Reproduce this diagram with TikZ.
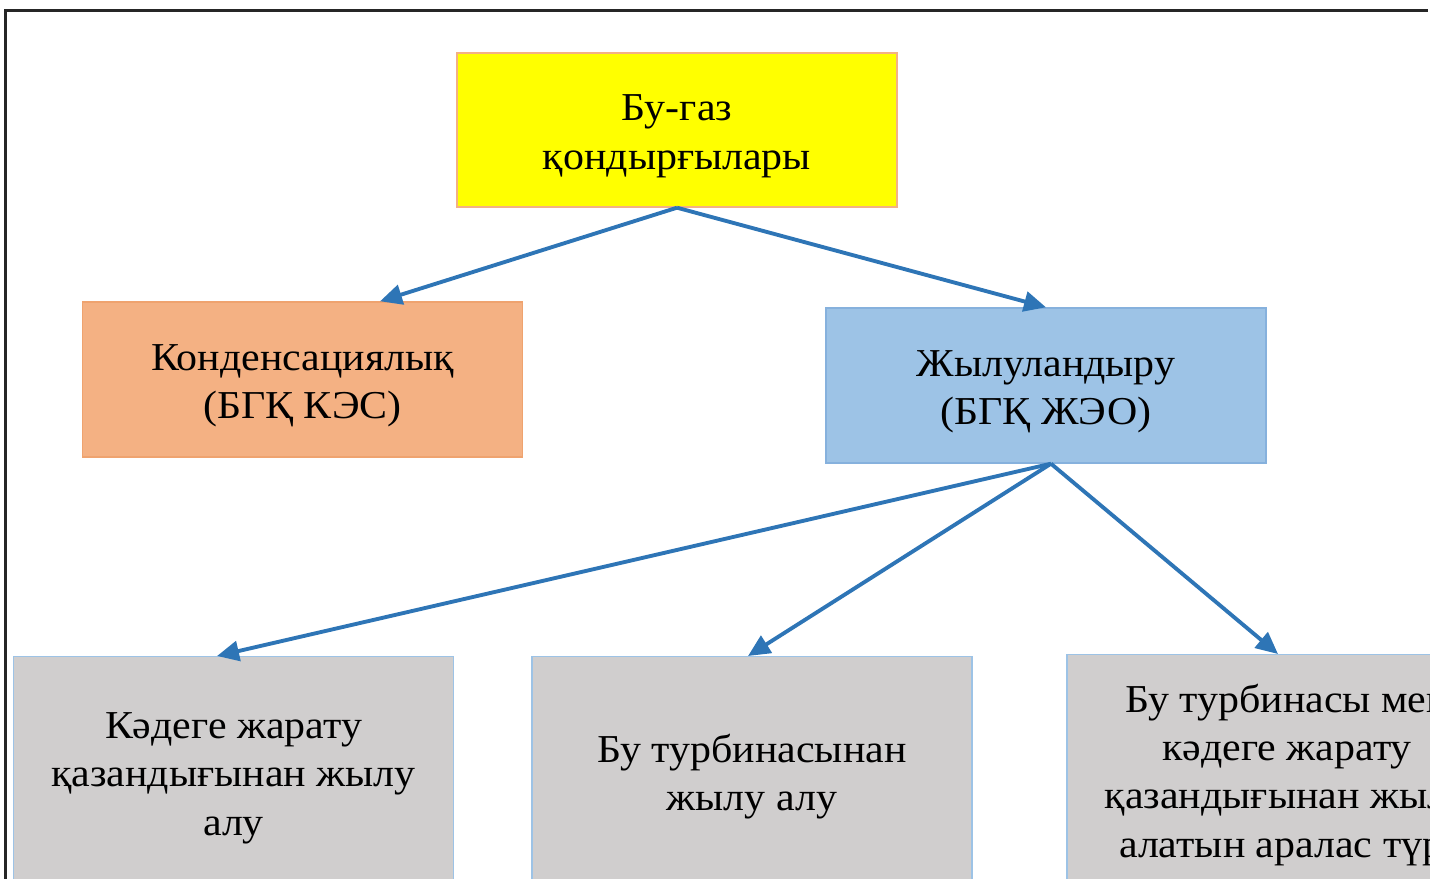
\documentclass[tikz,border=0pt]{standalone}
\usepackage{fontspec}
\setmainfont[FakeStretch=1.06]{Liberation Serif}
\usetikzlibrary{arrows.meta}
\definecolor{boxyellow}{HTML}{FFFF00}
\definecolor{yellowline}{HTML}{F4B183}
\definecolor{boxorange}{HTML}{F4B183}
\definecolor{orangeline}{HTML}{EFA36F}
\definecolor{boxblue}{HTML}{9DC3E6}
\definecolor{blueline}{HTML}{86B1DD}
\definecolor{boxgray}{HTML}{D0CECE}
\definecolor{arrowblue}{HTML}{2E75B6}
% taller first line, pushes the text a bit lower in its box
\newcommand\firstline{\rule{0pt}{22pt}}
\tikzset{
  block/.style={draw, line width=0.8pt, minimum width=8.8cm, minimum height=3.1cm,
    align=center, inner sep=0pt, font=\fontsize{22.5}{27.5}\selectfont},
  graybox/.style={block, fill=boxgray, draw=boxblue, minimum height=4.6cm, anchor=north},
  arr/.style={draw=arrowblue, line width=2.2pt, -{Triangle[length=0.44cm,width=0.4cm]}}
}
\begin{document}
\begin{tikzpicture}
\useasboundingbox (0,0) rectangle (28.6,-17.58);
\clip (0,0) rectangle (28.6,-17.58);
% frame
\draw[line width=1.4pt, black!85] (0.11,-17.7) -- (0.11,-0.21) -- (28.56,-0.21);

\node[block, fill=boxyellow, draw=yellowline, minimum height=3.08cm] (top) at (13.54,-2.60) {\firstline Бу-газ\\қондырғылары};
\node[block, fill=boxorange, draw=orangeline] (cond) at (6.05,-7.59) {\firstline Конденсациялық\\(БГҚ КЭС)};
\node[block, fill=boxblue, draw=blueline] (heat) at (20.92,-7.71) {\firstline Жылуландыру\\(БГҚ ЖЭО)};

\foreach \x/\y/\n/\xtext in {4.67/-13.12/g1/{Кәдеге жарату\\қазандығынан жылу\\алу},
    15.04/-13.12/g2/{Бу турбинасынан\\жылу алу},
    25.74/-13.08/g3/{Бу турбинасы мен\\кәдеге жарату\\қазандығынан жылу\\алатын аралас түрі}}
{
    \node[graybox] (\n) at (\x,\y) {\firstline\xtext};
}

\draw[arr] (top.south) -- ([xshift=1.55cm]cond.north);
\draw[arr] (top.south) -- (heat.north);
\foreach \n/\s in {g1/-0.33, g2/-0.08, g3/-0.18}
{
    \draw[arr] ([xshift=0.1cm]heat.south) -- ([xshift=\s cm]\n.north);
}
\end{tikzpicture}
\end{document}
